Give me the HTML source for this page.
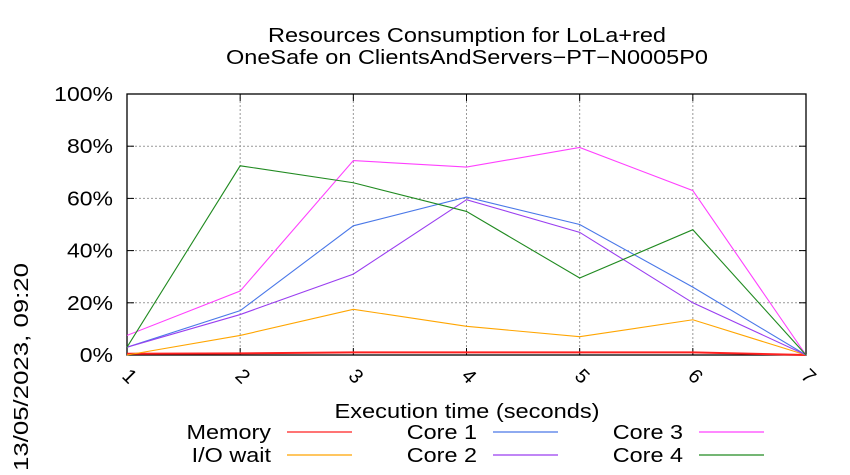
<!DOCTYPE html>
<html><head><meta charset="utf-8"><style>
body{margin:0;background:#fff;}
svg{display:block;font-family:"Liberation Sans",sans-serif;}
</style></head><body>
<svg id="c" width="850" height="475">
<text x="467" y="42" font-size="20" text-anchor="middle" textLength="398" lengthAdjust="spacingAndGlyphs">Resources Consumption for LoLa+red</text>
<text x="467" y="64" font-size="20" text-anchor="middle" textLength="482" lengthAdjust="spacingAndGlyphs">OneSafe on ClientsAndServers−PT−N0005P0</text>
<text transform="translate(28,367) rotate(-90)" font-size="20" text-anchor="middle" textLength="208" lengthAdjust="spacingAndGlyphs">13/05/2023, 09:20</text>
<text x="467" y="418" font-size="20" text-anchor="middle" textLength="265" lengthAdjust="spacingAndGlyphs">Execution time (seconds)</text>
<g id="grid"></g><g id="series"></g><g id="legend"></g>
</svg>
<script>
const xTicks=[1,2,3,4,5,6,7];
const yTicks=[0,20,40,60,80,100];
const memory=[0.5,0.6,1,1,1,1,0];
const ioWait=[0,7.5,17.5,11,7,13.5,0];
const core1=[3,17,49.5,60.5,50,26,0];
const core2=[3,15.5,31,59.5,47,20,0];
const core3=[7.5,24.5,74.5,72,79.5,63,0];
const core4=[3,72.5,66,55,29.5,48,0];
const NS="http://www.w3.org/2000/svg";
const X0=127,X1=806,Y0=355,Y1=94;
const xs=v=>X0+(v-1)/6*(X1-X0);
const ys=v=>Y0-v/100*(Y0-Y1);
function mk(t,a,p){const e=document.createElementNS(NS,t);for(const k in a)e.setAttribute(k,a[k]);p.appendChild(e);return e;}
function stretch(t,f){const w=t.getComputedTextLength();t.setAttribute('textLength',w*f);t.setAttribute('lengthAdjust','spacingAndGlyphs');}
const g=document.getElementById('grid');
yTicks.forEach(v=>{
 if(v>0&&v<100){const l=mk('line',{x1:X0,x2:X1,y1:ys(v),y2:ys(v),stroke:'#999','stroke-dasharray':'2,2'},g);
 
 }
 const t=mk('text',{x:X0-14,y:ys(v)+7,'font-size':20,'text-anchor':'end'},g);t.textContent=v+'%';
 
 
 stretch(t,1.15);
 mk('line',{x1:X0,x2:X0+7,y1:ys(v),y2:ys(v),stroke:'#000'},g);
 mk('line',{x1:X1,x2:X1-7,y1:ys(v),y2:ys(v),stroke:'#000'},g);
});
xTicks.forEach(v=>{
 if(v>1&&v<7){const l=mk('line',{x1:xs(v),x2:xs(v),y1:Y0,y2:Y1,stroke:'#999','stroke-dasharray':'2,2'},g);
 
 }
 const t=mk('text',{transform:`translate(${xs(v)-6},${Y0+22}) rotate(45)`,'font-size':20},g);t.textContent=v;
 
 
 mk('line',{x1:xs(v),x2:xs(v),y1:Y0,y2:Y0-7,stroke:'#000'},g);
 mk('line',{x1:xs(v),x2:xs(v),y1:Y1,y2:Y1+7,stroke:'#000'},g);
});
const fr=mk('rect',{x:X0,y:Y1,width:X1-X0,height:Y0-Y1,fill:'none',stroke:'#000','stroke-width':1.3},g);


const S=[['Memory',memory,'#ff2020'],['I/O wait',ioWait,'#ffa500'],['Core 1',core1,'#4a78e8'],['Core 2',core2,'#9a3ef0'],['Core 3',core3,'#ff40ff'],['Core 4',core4,'#208a20']];
const sg=document.getElementById('series'),lg=document.getElementById('legend');
const lx=[271,477,683],ly=[439,462];
S.forEach((s,i)=>{
 const p=mk('polyline',{points:s[1].map((v,j)=>xs(xTicks[j])+','+ys(v)).join(' '),fill:'none',stroke:s[2],'stroke-width':i==0?2:1.1},sg);
 
 
 const c=Math.floor(i/2),r=i%2;
 const t=mk('text',{x:lx[c],y:ly[r],'font-size':20,'text-anchor':'end'},lg);t.textContent=s[0];
 
 
 stretch(t,1.17);
 const l=mk('line',{x1:lx[c]+16,x2:lx[c]+81,y1:ly[r]-7,y2:ly[r]-7,stroke:s[2],'stroke-width':1.2},lg);
 
 
});
</script>
</body></html>
